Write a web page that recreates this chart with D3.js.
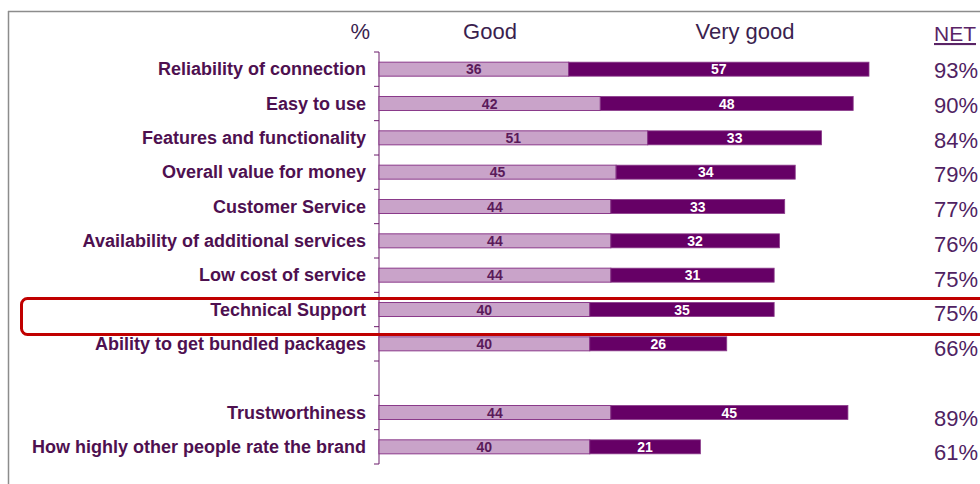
<!DOCTYPE html>
<html>
<head>
  <meta charset="utf-8">
  <title>Rating bars</title>
  <script src="https://cdn.jsdelivr.net/npm/d3@7"></script>
  <style>
    body { margin: 0; background: #fff; }
    svg text { font-family: "Liberation Sans", Arial, sans-serif; }
  </style>
</head>
<body>
<script>
  // data; "" is the empty gap row
  var categories = ["Reliability of connection", "Easy to use", "Features and functionality",
    "Overall value for money", "Customer Service", "Availability of additional services",
    "Low cost of service", "Technical Support", "Ability to get bundled packages", "",
    "Trustworthiness", "How highly other people rate the brand"];
  var good = [36, 42, 51, 45, 44, 44, 44, 40, 40, null, 44, 40];
  var veryGood = [57, 48, 33, 34, 33, 32, 31, 35, 26, null, 45, 21];
  var net = ["93%", "90%", "84%", "79%", "77%", "76%", "75%", "75%", "66%", "", "89%", "61%"];
  var highlight = "Technical Support";

  var width = 980, height = 484;
  var left = 379;
  var plotTop = 52, plotBottom = 464;

  var svg = d3.select("body").append("svg")
    .attr("width", width)
    .attr("height", height);

  // gray frame (top and left edges only visible)
  svg.append("line").attr("x1", 8).attr("x2", width).attr("y1", 11.5).attr("y2", 11.5)
    .attr("stroke", "#8c8c8c").attr("stroke-width", 1.5);
  svg.append("line").attr("x1", 8.5).attr("x2", 8.5).attr("y1", 11).attr("y2", height)
    .attr("stroke", "#8c8c8c").attr("stroke-width", 1.5);

  var x = d3.scaleLinear().domain([0, 93]).range([left, 869]);
  // one slot per row, no padding so the ticks sit on slot edges
  var y = d3.scaleBand().domain(d3.range(categories.length)).range([plotTop, plotBottom]);
  // the NET column is spaced a touch wider than the bars
  var yNet = d3.scaleBand().domain(d3.range(categories.length)).range([61, 478]);

  var rows = categories.map(function (c, i) {
    return { i: i, name: c, good: good[i], veryGood: veryGood[i], net: net[i] };
  });
  var filled = rows.filter(function (d) { return d.good != null; });

  var cy = function (d) { return y(d.i) + y.bandwidth() / 2; };
  var bh = 14;

  svg.append("line").attr("x1", left).attr("x2", left).attr("y1", plotTop).attr("y2", plotBottom)
    .attr("stroke", "#6b1a6b").attr("stroke-width", 1);
  var edges = y.domain().map(function (i) { return y(i); }).concat([plotBottom]);
  svg.selectAll(".tick").data(edges).enter().append("line")
    .attr("x1", left - 5).attr("x2", left)
    .attr("y1", function (d) { return d; })
    .attr("y2", function (d) { return d; })
    .attr("stroke", "#6b1a6b").attr("stroke-width", 1);

  svg.selectAll(".good").data(filled).enter().append("rect")
    .attr("x", x(0))
    .attr("y", function (d) { return cy(d) - bh / 2; })
    .attr("width", function (d) { return x(d.good) - x(0); })
    .attr("height", bh)
    .attr("fill", "#c9a3c9")
    .attr("stroke", "#8a3a8a").attr("stroke-width", 1);

  svg.selectAll(".vgood").data(filled).enter().append("rect")
    .attr("x", function (d) { return x(d.good); })
    .attr("y", function (d) { return cy(d) - bh / 2; })
    .attr("width", function (d) { return x(d.good + d.veryGood) - x(d.good); })
    .attr("height", bh)
    .attr("fill", "#660066")
    .attr("stroke", "#8a3a8a").attr("stroke-width", 0.8);

  svg.selectAll(".glab").data(filled).enter().append("text")
    .attr("x", function (d) { return (x(0) + x(d.good)) / 2; })
    .attr("y", function (d) { return cy(d) + 5; })
    .attr("text-anchor", "middle")
    .style("font-size", "14px").style("font-weight", "bold")
    .style("fill", "#5a1a5a")
    .text(function (d) { return d.good; });

  svg.selectAll(".vlab").data(filled).enter().append("text")
    .attr("x", function (d) { return (x(d.good) + x(d.good + d.veryGood)) / 2; })
    .attr("y", function (d) { return cy(d) + 5; })
    .attr("text-anchor", "middle")
    .style("font-size", "14px").style("font-weight", "bold")
    .style("fill", "#ffffff")
    .text(function (d) { return d.veryGood; });

  // category labels
  svg.selectAll(".cat").data(filled).enter().append("text")
    .attr("x", 366)
    .attr("y", function (d) { return cy(d) + 6; })
    .attr("text-anchor", "end")
    .style("font-size", "18px").style("font-weight", "bold")
    .style("fill", "#4e1050")
    .text(function (d) { return d.name; });

  // NET column
  svg.selectAll(".net").data(filled).enter().append("text")
    .attr("x", 934)
    .attr("y", function (d) { return yNet(d.i) + 17; })
    .style("font-size", "22px")
    .style("fill", "#4f2262")
    .text(function (d) { return d.net; });

  // headers
  svg.append("text").attr("x", 370).attr("y", 39).attr("text-anchor", "end")
    .style("font-size", "22px").style("fill", "#3b1f4f").text("%");
  svg.append("text").attr("x", 490).attr("y", 39).attr("text-anchor", "middle")
    .style("font-size", "22px").style("fill", "#3b1f4f").text("Good");
  svg.append("text").attr("x", 745).attr("y", 39).attr("text-anchor", "middle")
    .style("font-size", "22px").style("fill", "#3b1f4f").text("Very good");
  svg.append("text").attr("x", 934).attr("y", 41)
    .style("font-size", "21px").style("fill", "#5a2466")
    .style("text-decoration", "underline").text("NET");

  // red highlight box
  var hi = rows.filter(function (d) { return d.name === highlight; })[0];
  svg.append("rect")
    .attr("x", 21.5).attr("y", cy(hi) - 11)
    .attr("width", 990).attr("height", 36)
    .attr("rx", 6)
    .attr("fill", "none")
    .attr("stroke", "#c00000").attr("stroke-width", 3);
</script>
</body>
</html>
